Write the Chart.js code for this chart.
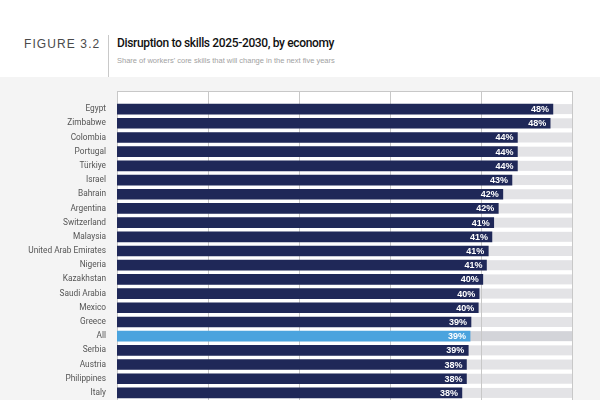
<!DOCTYPE html>
<html>
<head>
<meta charset="utf-8">
<script src="https://cdn.jsdelivr.net/npm/chart.js@4"></script>
<style>
    html, body { margin: 0; padding: 0; width: 600px; height: 400px; overflow: hidden; background: #fff; }
    body { position: relative; font-family: "Liberation Sans", Arial, sans-serif; }
    #fig { position: absolute; left: 24px; top: 37px; font-size: 12px; letter-spacing: 1.1px; color: #4a4a4a; }
    #divider { position: absolute; left: 108px; top: 35px; width: 1px; height: 42px; background: #c9c9c9; }
    #titulo { position: absolute; left: 117px; top: 36px; font-family: Roboto, sans-serif; font-size: 12px; color: #111; font-weight: 500; letter-spacing: -0.35px; }
    #subtitulo { position: absolute; left: 117px; top: 56px; font-size: 7.5px; color: #a2a2a2; }
    #panel { position: absolute; left: 0; top: 77px; width: 600px; height: 323px; background: #f4f4f4; }
    #grafico { position: absolute; left: 0; top: 77px; }
</style>
</head>
<body>
<div id="fig">FIGURE 3.2</div>
<div id="divider"></div>
<div id="titulo">Disruption to skills 2025-2030, by economy</div>
<div id="subtitulo">Share of workers' core skills that will change in the next five years</div>
<div id="panel"></div>
<canvas id="grafico" width="600" height="339"></canvas>

<script>
const paises = ["Egypt", "Zimbabwe", "Colombia", "Portugal", "Türkiye", "Israel", "Bahrain",
    "Argentina", "Switzerland", "Malaysia", "United Arab Emirates", "Nigeria", "Kazakhstan",
    "Saudi Arabia", "Mexico", "Greece", "All", "Serbia", "Austria", "Philippines", "Italy"];

const valores = [47.9, 47.6, 44.0, 44.0, 44.0, 43.4, 42.4, 41.9, 41.4, 41.2, 40.8,
    40.6, 40.2, 39.8, 39.7, 38.9, 38.8, 38.6, 38.4, 38.4, 37.9];

const ejeMax = 50;
const ejeTicks = [0, 10, 20, 30, 40, 50];

const colorBarra = "#1f2858";
const colorTotal = "#4aa3de";

// fondo blanco, pistas grises y lineas de grilla
const fondoPlugin = {
    id: "fondo",
    beforeDatasetsDraw(chart) {
        const { ctx, chartArea, scales } = chart;
        const x = scales.x;
        const top = chartArea.top - 11;
        ctx.save();
        ctx.fillStyle = "#ffffff";
        ctx.fillRect(chartArea.left, top, chartArea.right - chartArea.left, chartArea.bottom - top);

        const meta = chart.getDatasetMeta(0);
        meta.data.forEach((bar, i) => {
            ctx.fillStyle = paises[i] === "All" ? "#d3d4d9" : "#e3e3e6";
            const x0 = x.getPixelForValue(0);
            const x1 = x.getPixelForValue(ejeMax);
            ctx.fillRect(x0, bar.y - bar.height / 2, x1 - x0, bar.height);
        });

        ctx.strokeStyle = "#c8c8c8";
        ctx.lineWidth = 1;
        ejeTicks.forEach(t => {
            const px = Math.round(x.getPixelForValue(t)) + 0.5;
            ctx.beginPath();
            ctx.moveTo(px, top);
            ctx.lineTo(px, chartArea.bottom);
            ctx.stroke();
        });
        ctx.beginPath();
        ctx.moveTo(chartArea.left, Math.round(top) + 0.5);
        ctx.lineTo(chartArea.right, Math.round(top) + 0.5);
        ctx.stroke();
        ctx.restore();
    }
};

// etiquetas de porcentaje dentro de la barra
const etiquetasPlugin = {
    id: "etiquetas",
    afterDatasetsDraw(chart) {
        const { ctx } = chart;
        const meta = chart.getDatasetMeta(0);
        ctx.save();
        ctx.fillStyle = "#ffffff";
        ctx.font = "bold 9px 'Liberation Sans', Arial, sans-serif";
        ctx.textAlign = "right";
        ctx.textBaseline = "middle";
        meta.data.forEach((bar, i) => {
            ctx.fillText(Math.round(valores[i]) + "%", bar.x - 4, bar.y + 0.5);
        });
        ctx.restore();
    }
};

new Chart(document.getElementById("grafico"), {
    type: "bar",
    data: {
        labels: paises,
        datasets: [{
            data: valores,
            backgroundColor: paises.map(p => p === "All" ? colorTotal : colorBarra),
            barThickness: 10,
            borderWidth: 0
        }]
    },
    options: {
        indexAxis: "y",
        responsive: false,
        animation: false,
        devicePixelRatio: 1,
        layout: { padding: { top: 25, right: 28, bottom: 0, left: 0 } },
        plugins: {
            legend: { display: false },
            tooltip: { enabled: false }
        },
        scales: {
            x: {
                display: false,
                min: 0,
                max: ejeMax,
                ticks: { stepSize: 10 }
            },
            y: {
                grid: { display: false, drawTicks: false },
                border: { display: false },
                ticks: {
                    color: "#555",
                    padding: 11,
                    autoSkip: false,
                    font: { family: "Roboto, 'Liberation Sans', sans-serif", size: 8.3 }
                },
                afterFit(scale) { scale.width = 117; }
            }
        }
    },
    plugins: [fondoPlugin, etiquetasPlugin]
});
</script>
</body>
</html>
